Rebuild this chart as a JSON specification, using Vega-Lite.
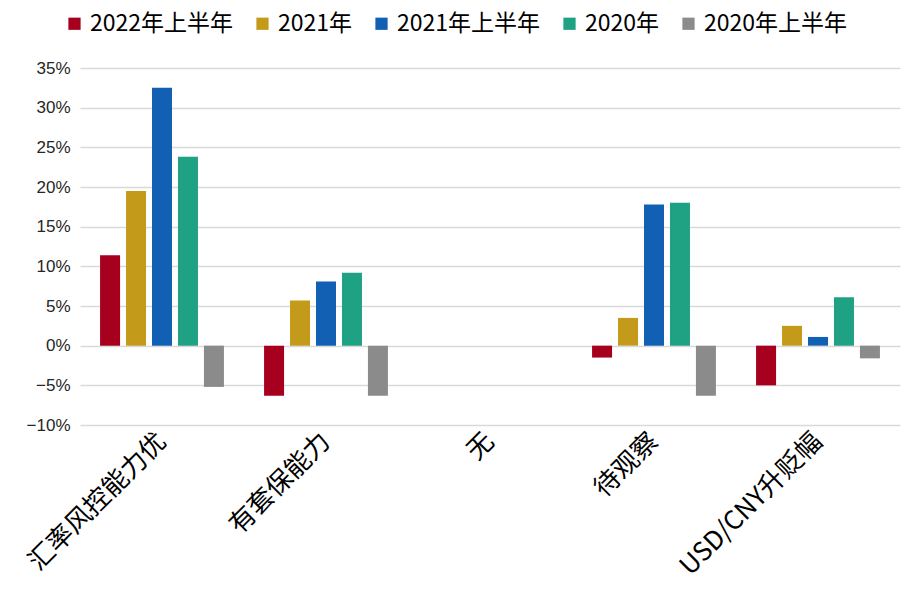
{
  "$schema": "https://vega.github.io/schema/vega-lite/v6.json",
  "width": 820,
  "height": 357,
  "autosize": "none",
  "padding": {"left": 80, "top": 68, "right": 8, "bottom": 166},
  "background": "white",
  "data": {
    "values": [
      {"cat": "汇率风控能力优", "series": "2022年上半年", "v": 0.114},
      {"cat": "汇率风控能力优", "series": "2021年", "v": 0.195},
      {"cat": "汇率风控能力优", "series": "2021年上半年", "v": 0.325},
      {"cat": "汇率风控能力优", "series": "2020年", "v": 0.238},
      {"cat": "汇率风控能力优", "series": "2020年上半年", "v": -0.052},
      {"cat": "有套保能力", "series": "2022年上半年", "v": -0.063},
      {"cat": "有套保能力", "series": "2021年", "v": 0.057},
      {"cat": "有套保能力", "series": "2021年上半年", "v": 0.081},
      {"cat": "有套保能力", "series": "2020年", "v": 0.092},
      {"cat": "有套保能力", "series": "2020年上半年", "v": -0.063},
      {"cat": "待观察", "series": "2022年上半年", "v": -0.015},
      {"cat": "待观察", "series": "2021年", "v": 0.035},
      {"cat": "待观察", "series": "2021年上半年", "v": 0.178},
      {"cat": "待观察", "series": "2020年", "v": 0.180},
      {"cat": "待观察", "series": "2020年上半年", "v": -0.063},
      {"cat": "USD/CNY升贬幅", "series": "2022年上半年", "v": -0.050},
      {"cat": "USD/CNY升贬幅", "series": "2021年", "v": 0.025},
      {"cat": "USD/CNY升贬幅", "series": "2021年上半年", "v": 0.011},
      {"cat": "USD/CNY升贬幅", "series": "2020年", "v": 0.061},
      {"cat": "USD/CNY升贬幅", "series": "2020年上半年", "v": -0.016}
    ]
  },
  "mark": {"type": "bar", "width": 20},
  "encoding": {
    "x": {
      "field": "cat",
      "type": "nominal",
      "scale": {"domain": ["汇率风控能力优", "有套保能力", "无", "待观察", "USD/CNY升贬幅"], "paddingInner": 0.24, "paddingOuter": 0.12},
      "axis": {
        "title": null,
        "domain": false,
        "ticks": false,
        "labelAngle": -45,
        "labelAlign": "right",
        "labelBaseline": "middle",
        "labelFont": "Noto Sans CJK SC",
        "labelFontSize": 26,
        "labelLimit": 0,
        "labelColor": "#000000",
        "labelPadding": 12,
        "labelOffset": 0
      }
    },
    "xOffset": {
      "field": "series",
      "type": "nominal",
      "sort": ["2022年上半年", "2021年", "2021年上半年", "2020年", "2020年上半年"],
      "scale": {"paddingInner": 0.2}
    },
    "y": {
      "field": "v",
      "type": "quantitative",
      "scale": {"domain": [-0.1, 0.35], "nice": false},
      "axis": {
        "title": null,
        "format": ".0%",
        "values": [-0.1, -0.05, 0, 0.05, 0.1, 0.15, 0.2, 0.25, 0.3, 0.35],
        "domain": false,
        "ticks": false,
        "grid": true,
        "gridColor": "#d9d9d9",
        "gridWidth": 1.5,
        "labelFont": "Liberation Sans",
        "labelFontSize": 17,
        "labelColor": "#262626",
        "labelPadding": 10
      }
    },
    "color": {
      "field": "series",
      "type": "nominal",
      "sort": ["2022年上半年", "2021年", "2021年上半年", "2020年", "2020年上半年"],
      "scale": {
        "domain": ["2022年上半年", "2021年", "2021年上半年", "2020年", "2020年上半年"],
        "range": ["#A6001E", "#C49A1A", "#1260B4", "#1FA184", "#8B8B8B"]
      },
      "legend": {
        "title": null,
        "orient": "none",
        "direction": "horizontal",
        "columns": 5,
        "legendX": -17,
        "legendY": -56,
        "symbolType": "square",
        "symbolSize": 150,
        "symbolStrokeWidth": 0,
        "labelFont": "Noto Sans CJK SC",
        "labelFontSize": 23,
        "labelLimit": 0,
        "labelColor": "#000000",
        "columnPadding": 17,
        "labelOffset": 4
      }
    }
  },
  "config": {"view": {"stroke": null}}
}
